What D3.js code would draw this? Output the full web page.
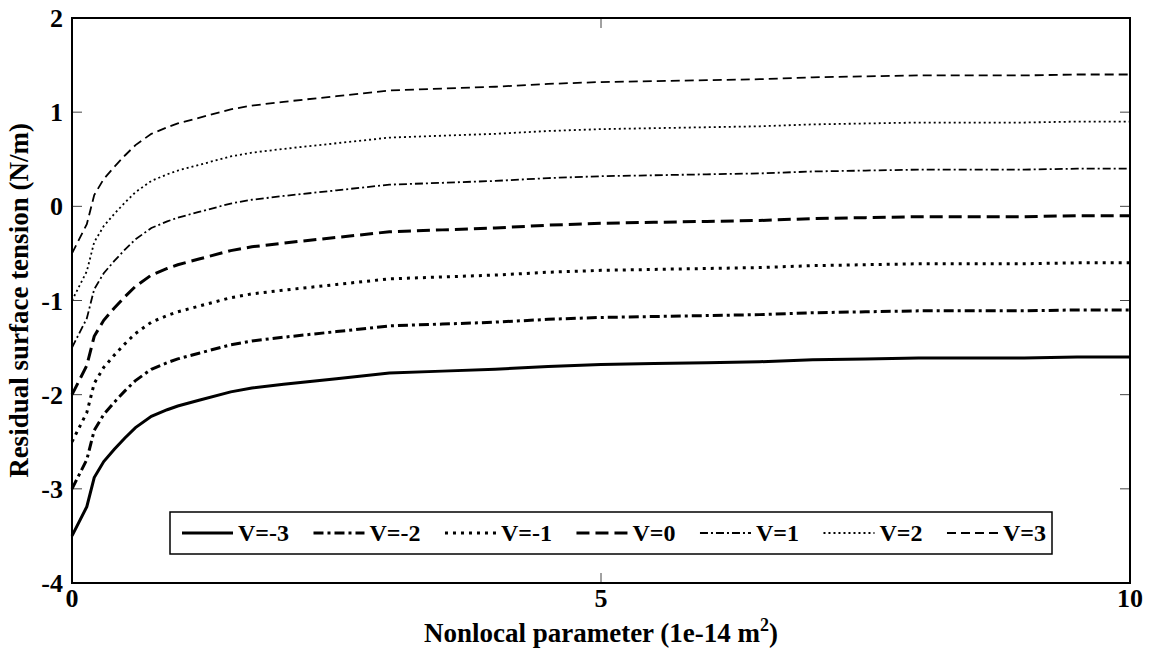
<!DOCTYPE html>
<html>
<head>
<meta charset="utf-8">
<script src="https://cdn.jsdelivr.net/npm/d3@7"></script>
<style>
body { margin: 0; background: #fff; }
text { font-family: "Liberation Serif", "Times New Roman", serif; font-weight: bold; }
</style>
</head>
<body>
<div id="chart"></div>
<script>
var xVals = [0, 0.14, 0.21, 0.3, 0.4, 0.5, 0.6, 0.75, 0.9, 1.0, 1.2, 1.5, 1.7, 2.0, 2.5, 3.0, 3.5, 4.0, 4.5, 5.0, 5.5, 6.0, 6.5, 7.0, 7.5, 8.0, 8.5, 9.0, 9.5, 10];

var vm3 = [-3.5, -3.19, -2.88, -2.71, -2.58, -2.46, -2.35, -2.23, -2.16, -2.12, -2.06, -1.97, -1.93, -1.89, -1.83, -1.77, -1.75, -1.73, -1.70, -1.68, -1.67, -1.66, -1.65, -1.63, -1.62, -1.61, -1.61, -1.61, -1.60, -1.60];
var vm2 = [-3.0, -2.69, -2.38, -2.21, -2.08, -1.96, -1.85, -1.73, -1.66, -1.62, -1.56, -1.47, -1.43, -1.39, -1.33, -1.27, -1.25, -1.23, -1.20, -1.18, -1.17, -1.16, -1.15, -1.13, -1.12, -1.11, -1.11, -1.11, -1.10, -1.10];
var vm1 = [-2.5, -2.19, -1.88, -1.71, -1.58, -1.46, -1.35, -1.23, -1.16, -1.12, -1.06, -0.97, -0.93, -0.89, -0.83, -0.77, -0.75, -0.73, -0.70, -0.68, -0.67, -0.66, -0.65, -0.63, -0.62, -0.61, -0.61, -0.61, -0.60, -0.60];
var v0 = [-2.0, -1.69, -1.38, -1.21, -1.08, -0.96, -0.85, -0.73, -0.66, -0.62, -0.56, -0.47, -0.43, -0.39, -0.33, -0.27, -0.25, -0.23, -0.20, -0.18, -0.17, -0.16, -0.15, -0.13, -0.12, -0.11, -0.11, -0.11, -0.10, -0.10];
var v1 = [-1.5, -1.19, -0.88, -0.71, -0.58, -0.46, -0.35, -0.23, -0.16, -0.12, -0.06, 0.03, 0.07, 0.11, 0.17, 0.23, 0.25, 0.27, 0.30, 0.32, 0.33, 0.34, 0.35, 0.37, 0.38, 0.39, 0.39, 0.39, 0.40, 0.40];
var v2 = [-1.0, -0.69, -0.38, -0.21, -0.08, 0.04, 0.15, 0.27, 0.34, 0.38, 0.44, 0.53, 0.57, 0.61, 0.67, 0.73, 0.75, 0.77, 0.80, 0.82, 0.83, 0.84, 0.85, 0.87, 0.88, 0.89, 0.89, 0.89, 0.90, 0.90];
var v3 = [-0.5, -0.19, 0.12, 0.29, 0.42, 0.54, 0.65, 0.77, 0.84, 0.88, 0.94, 1.03, 1.07, 1.11, 1.17, 1.23, 1.25, 1.27, 1.30, 1.32, 1.33, 1.34, 1.35, 1.37, 1.38, 1.39, 1.39, 1.39, 1.40, 1.40];

var seriesNames = ["V=-3", "V=-2", "V=-1", "V=0", "V=1", "V=2", "V=3"];
var xTicks = [0, 5, 10];
var yTicks = [-4, -3, -2, -1, 0, 1, 2];

// line styles per series (matlab-ish)
var styles = [
	{w: 3, dash: null},
	{w: 3, dash: "10,4,3,4"},
	{w: 3, dash: "3,5"},
	{w: 3, dash: "13,6"},
	{w: 1.8, dash: "8,3,2,3"},
	{w: 1.8, dash: "2,3"},
	{w: 1.8, dash: "9,5"}
];

var series = [vm3, vm2, vm1, v0, v1, v2, v3].map((vals, i) => ({
	name: seriesNames[i],
	points: vals.map((v, j) => [xVals[j], v])
}));

var W = 1149, H = 659;
var margin = {top: 18, right: 19, bottom: 76, left: 72},
	width = W - margin.left - margin.right,
	height = H - margin.top - margin.bottom;

var svg = d3.select("#chart")
	.append("svg")
	.attr("width", W)
	.attr("height", H)
	.append("g")
	.attr("transform", "translate(" + margin.left + "," + margin.top + ")");

var x = d3.scaleLinear().domain([0, 10]).range([0, width]);
var y = d3.scaleLinear().domain([-4, 2]).range([height, 0]);

// inward ticks on all four sides
var tickLen = 10;
svg.append("g").selectAll("line").data(yTicks).join("line")
	.attr("x1", 0).attr("x2", tickLen)
	.attr("y1", d => y(d)).attr("y2", d => y(d))
	.attr("stroke", "#444").attr("stroke-width", 1);
svg.append("g").selectAll("line").data(yTicks).join("line")
	.attr("x1", width - tickLen).attr("x2", width)
	.attr("y1", d => y(d)).attr("y2", d => y(d))
	.attr("stroke", "#444").attr("stroke-width", 1);
svg.append("g").selectAll("line").data(xTicks).join("line")
	.attr("x1", d => x(d)).attr("x2", d => x(d))
	.attr("y1", height).attr("y2", height - tickLen)
	.attr("stroke", "#444").attr("stroke-width", 1);
svg.append("g").selectAll("line").data(xTicks).join("line")
	.attr("x1", d => x(d)).attr("x2", d => x(d))
	.attr("y1", 0).attr("y2", tickLen)
	.attr("stroke", "#444").attr("stroke-width", 1);

// tick labels
svg.append("g").selectAll("text").data(yTicks).join("text")
	.attr("x", -9)
	.attr("y", d => y(d))
	.attr("dy", "0.35em")
	.attr("text-anchor", "end")
	.attr("font-size", 26)
	.text(d => d);
svg.append("g").selectAll("text").data(xTicks).join("text")
	.attr("x", d => x(d))
	.attr("y", height + 24)
	.attr("text-anchor", "middle")
	.attr("font-size", 26)
	.text(d => d);

// curves
var line = d3.line().x(d => x(d[0])).y(d => y(d[1]));
svg.append("g").selectAll("path").data(series).join("path")
	.attr("d", d => line(d.points))
	.attr("fill", "none")
	.attr("stroke", "#000")
	.attr("stroke-width", (d, i) => styles[i].w)
	.attr("stroke-dasharray", (d, i) => styles[i].dash);

// frame
svg.append("rect")
	.attr("width", width).attr("height", height)
	.attr("fill", "none").attr("stroke", "#000").attr("stroke-width", 2);

// axis titles
svg.append("text")
	.attr("x", width / 2)
	.attr("y", height + 59)
	.attr("text-anchor", "middle")
	.attr("font-size", 27)
	.call(t => {
		t.append("tspan").text("Nonlocal parameter (1e-14 m");
		t.append("tspan").attr("dy", -11).attr("font-size", 18).text("2");
		t.append("tspan").attr("dy", 11).text(")");
	});
svg.append("text")
	.attr("transform", "translate(" + (-44) + "," + (height / 2) + ") rotate(-90)")
	.attr("text-anchor", "middle")
	.attr("font-size", 27)
	.text("Residual surface tension (N/m)");

// legend: box 170..1052 (page px); gaps between entries shared out evenly
var legLeft = 170, legRight = 1052, legTop = 512, legH = 42;
var tokenW = 51, textGap = 5;
var leg = svg.append("g").attr("transform", "translate(" + (-margin.left) + "," + (-margin.top) + ")");
leg.append("rect")
	.attr("x", legLeft).attr("y", legTop)
	.attr("width", legRight - legLeft).attr("height", legH)
	.attr("fill", "#fff").attr("stroke", "#000").attr("stroke-width", 1.5);
var ly = legTop + legH / 2;
var labels = series.map(s => leg.append("text")
	.attr("y", ly)
	.attr("dy", "0.35em")
	.attr("font-size", 24)
	.text(s.name));
var tw = labels.map(t => t.node().getComputedTextLength());
var inner = (legRight - 6) - (legLeft + 12);
var used = d3.sum(tw) + series.length * (tokenW + textGap);
var gap = (inner - used) / (series.length - 1);
var cx = legLeft + 12;
series.forEach((s, i) => {
	leg.append("line")
		.attr("x1", cx).attr("x2", cx + tokenW)
		.attr("y1", ly).attr("y2", ly)
		.attr("stroke", "#000")
		.attr("stroke-width", styles[i].w)
		.attr("stroke-dasharray", styles[i].dash);
	labels[i].attr("x", cx + tokenW + textGap);
	cx += tokenW + textGap + tw[i] + gap;
});
</script>
</body>
</html>
